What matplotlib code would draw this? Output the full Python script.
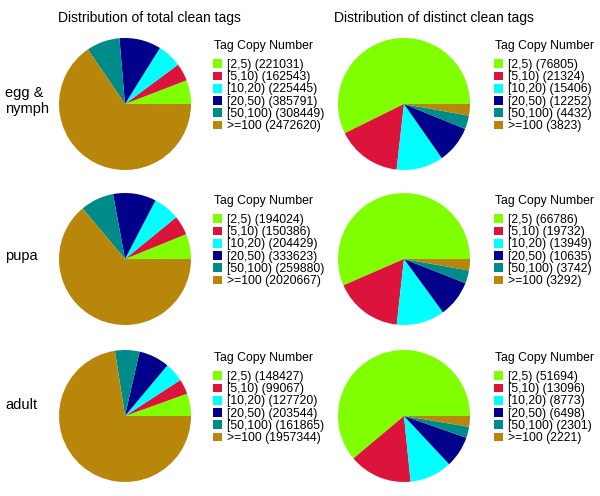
import matplotlib
matplotlib.use("Agg")
import matplotlib.pyplot as plt

plt.rcParams["font.family"] = ["Liberation Sans", "DejaVu Sans"]

stages = ["egg &\nnymph", "pupa", "adult"]
bins = ["[2,5)", "[5,10)", "[10,20)", "[20,50)", "[50,100)", ">=100"]
colors = ["#7FFF00", "#DC143C", "#00FFFF", "#00008B", "#008B8B", "#B8860B"]

# total clean tags per copy-number bin
total_egg = [221031, 162543, 225445, 385791, 308449, 2472620]
total_pupa = [194024, 150386, 204429, 333623, 259880, 2020667]
total_adult = [148427, 99067, 127720, 203544, 161865, 1957344]

# distinct clean tags per copy-number bin
distinct_egg = [76805, 21324, 15406, 12252, 4432, 3823]
distinct_pupa = [66786, 19732, 13949, 10635, 3742, 3292]
distinct_adult = [51694, 13096, 8773, 6498, 2301, 2221]

totals = [total_egg, total_pupa, total_adult]
distincts = [distinct_egg, distinct_pupa, distinct_adult]

W, H = 600, 496
fig = plt.figure(figsize=(W / 100, H / 100), dpi=100)


def fx(x):
    return x / W


def fy(y):
    return 1 - y / H


def draw_pie(values, cx, cy, r, leg_x, leg_y):
    ax = fig.add_axes([fx(cx - r), fy(cy + r), 2 * r / W, 2 * r / H])
    wedges, _ = ax.pie(values, colors=colors, startangle=0, counterclock=True,
                       wedgeprops=dict(linewidth=0))
    ax.set_xlim(-1, 1)
    ax.set_ylim(-1, 1)
    ax.set_aspect("equal")
    ax.axis("off")
    labels = ["%s (%d)" % (b, v) for b, v in zip(bins, values)]
    fig.text(fx(leg_x + 1), fy(leg_y), "Tag Copy Number", fontsize=8.8,
             va="center", ha="left")
    fig.legend(wedges, labels, loc="upper left",
               bbox_to_anchor=(fx(leg_x), fy(leg_y + 13)),
               frameon=False, fontsize=8.8, borderpad=0, borderaxespad=0,
               handlelength=0.72, handleheight=0.72, handletextpad=0.45,
               labelspacing=0.02)


row_y = [104, 259, 416]
label_y = [101, 256, 405]
for i in range(3):
    cy = row_y[i]
    fig.text(fx(5), fy(label_y[i]), stages[i], fontsize=10.5, va="center",
             ha="left", linespacing=1.25)
    draw_pie(totals[i], 125, cy, 66, 213, cy - 58)
    draw_pie(distincts[i], 404, cy, 66, 494, cy - 58)

fig.text(fx(149), fy(18), "Distribution of total clean tags", fontsize=10,
         ha="center", va="center")
fig.text(fx(434), fy(18), "Distribution of distinct clean tags", fontsize=10,
         ha="center", va="center")

fig.savefig("out.png", dpi=100)
